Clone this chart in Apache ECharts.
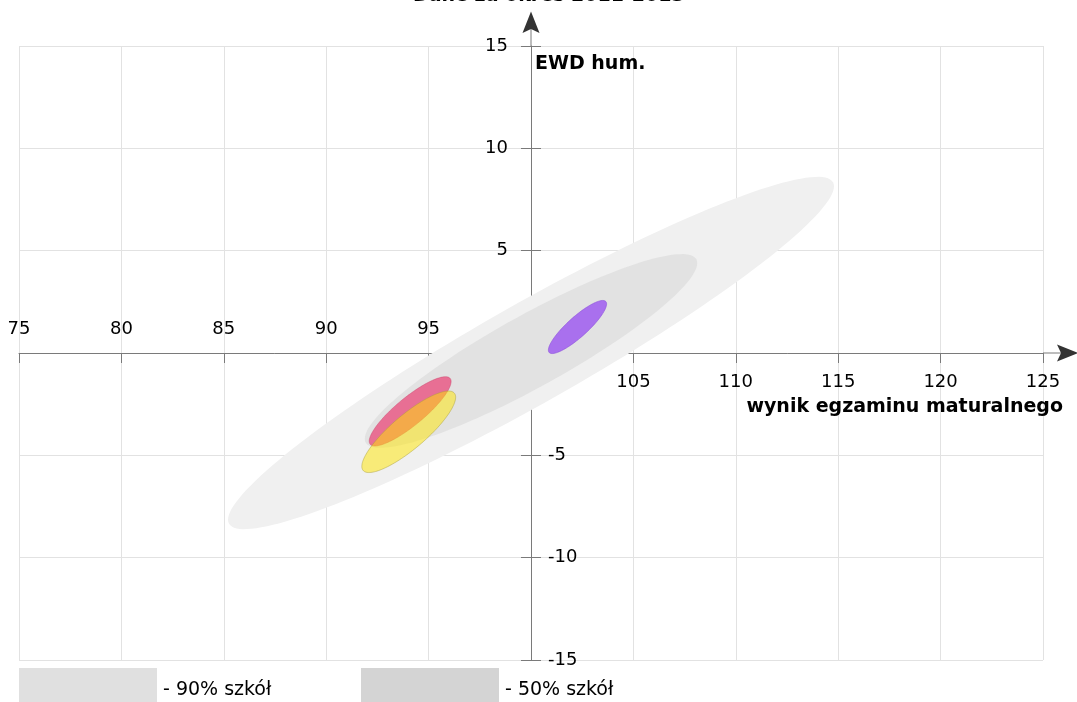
<!DOCTYPE html>
<html><head><meta charset="utf-8">
<script src="https://cdn.jsdelivr.net/npm/echarts@6/dist/echarts.min.js"></script>
<style>html,body{margin:0;padding:0;background:#fff;overflow:hidden}#c{width:1077px;height:702px}</style>
</head><body><div id="c"></div>
<script>
// ---- data ----
const titleText = 'Dane za okres 2011-2013';
const xAxisName = 'wynik egzaminu maturalnego';
const yAxisName = 'EWD hum.';
const xMin = 75, xMax = 125, xStep = 5, xCross = 100;
const yMin = -15, yMax = 15, yStep = 5, yCross = 0;
const ellipseNames = ['90% szkół', '50% szkół', 'szkoła 1', 'szkoła 2', 'szkoła 3'];
const ellipseCx = [100, 100, 94.1, 94.03, 102.27];
const ellipseCy = [0, 0.1, -2.85, -3.85, 1.27];
const ellipseA = [16.94, 9.23, 2.53, 2.92, 1.86];   // semi-major (axis units)
const ellipseB = [2.44, 1.76, 0.68, 0.83, 0.49];    // semi-minor (axis units)
const ellipseAngle = [29.5, 29, 39.5, 40.3, 42];    // degrees
const legendLabels = ['- 90% szkół', '- 50% szkół'];

// ---- styles ----
const ellipseFill = ['#f0f0f0', '#e2e2e2', 'rgba(235,40,100,0.62)', 'rgba(255,230,0,0.5)', '#a970ee'];
const ellipseStroke = [null, null, 'rgba(200,60,100,0.5)', 'rgba(170,160,60,0.6)', 'rgba(140,80,220,0.8)'];
const legendColors = ['#e0e0e0', '#d4d4d4'];
const FONT = 'DejaVu Sans';

function makeRender(i) {
  return function (params, api) {
    const cx = api.value(0), cy = api.value(1), a = api.value(2), b = api.value(3);
    const ang = api.value(4) * Math.PI / 180;
    const c = api.coord([cx, cy]);
    const s = api.size([1, 1]);
    const pts = [];
    const N = 160;
    for (let k = 0; k < N; k++) {
      const t = k / N * 2 * Math.PI;
      const dx = a * Math.cos(t) * Math.cos(ang) - b * Math.sin(t) * Math.sin(ang);
      const dy = a * Math.cos(t) * Math.sin(ang) + b * Math.sin(t) * Math.cos(ang);
      pts.push([c[0] + dx * s[0], c[1] - dy * s[1]]);
    }
    const style = { fill: ellipseFill[i] };
    if (ellipseStroke[i]) { style.stroke = ellipseStroke[i]; style.lineWidth = 0.8; }
    return { type: 'polygon', shape: { points: pts }, style: style };
  };
}

const series = ellipseNames.map((n, i) => ({
  type: 'custom', name: n, xAxisIndex: 0, yAxisIndex: 0, clip: false,
  renderItem: makeRender(i),
  data: [[ellipseCx[i], ellipseCy[i], ellipseA[i], ellipseB[i], ellipseAngle[i]]],
  silent: true, z: 2 + i
}));

const axisCol = '#7a7a7a';
const gridCol = '#e2e2e2';
const labelStyle = { color: '#000', fontSize: 18, fontFamily: FONT };

const chart = echarts.init(document.getElementById('c'), null, { renderer: 'canvas' });
chart.setOption({
  animation: false,
  title: { text: titleText, left: 408, top: -18, textStyle: { fontSize: 19, fontWeight: 'bold', fontFamily: FONT, color: '#000' } },
  grid: { left: 19, right: 34, top: 46, bottom: 42, containLabel: false, outerBoundsMode: 'none' },
  xAxis: [
    { type: 'value', min: xMin, max: xMax, interval: xStep, position: 'bottom',
      axisLine: { onZero: false, lineStyle: { color: axisCol, width: 1 } },
      axisTick: { show: true, length: 10, lineStyle: { color: axisCol } },
      axisLabel: Object.assign({ inside: true, margin: 15, formatter: v => (v < xCross ? String(v) : '') }, labelStyle),
      splitLine: { show: true, lineStyle: { color: gridCol, width: 1 } } },
    { type: 'value', min: xMin, max: xMax, interval: xStep, position: 'bottom',
      axisLine: { onZero: false, show: false },
      axisTick: { show: false },
      axisLabel: Object.assign({ margin: 20, formatter: v => (v > xCross ? String(v) : '') }, labelStyle),
      splitLine: { show: false } }
  ],
  yAxis: [
    { type: 'value', min: yMin, max: yMax, interval: yStep, position: 'left',
      axisLine: { onZero: false, lineStyle: { color: axisCol, width: 1 } },
      axisTick: { show: true, length: 10, lineStyle: { color: axisCol } },
      axisLabel: Object.assign({ margin: 23, formatter: v => (v > yCross ? String(v) : '') }, labelStyle),
      splitLine: { show: true, lineStyle: { color: gridCol, width: 1 } } },
    { type: 'value', min: yMin, max: yMax, interval: yStep, position: 'left',
      axisLine: { onZero: false, show: false },
      axisTick: { show: true, inside: true, length: 10, lineStyle: { color: axisCol } },
      axisLabel: Object.assign({ inside: true, margin: 17, formatter: v => (v < yCross ? String(v) : '') }, labelStyle),
      splitLine: { show: false } }
  ],
  series: series
});

// move axes so they cross at (xCross, yCross), using the library's own scales
const bl = chart.convertToPixel({ xAxisIndex: 0, yAxisIndex: 0 }, [xMin, yMin]);
const cr = chart.convertToPixel({ xAxisIndex: 0, yAxisIndex: 0 }, [xCross, yCross]);
const xOff = -(bl[1] - cr[1]);
const yOff = -(cr[0] - bl[0]);
chart.setOption({
  xAxis: [{ offset: xOff }, { offset: xOff }],
  yAxis: [{ offset: yOff }, { offset: yOff }]
});

const o = chart.convertToPixel({ xAxisIndex: 0, yAxisIndex: 0 }, [xCross, yMax]);   // top of y-axis
const r = chart.convertToPixel({ xAxisIndex: 0, yAxisIndex: 0 }, [xMax, yCross]);   // right end of x-axis

const g = [];
g.push({ type: 'line', shape: { x1: o[0], y1: o[1], x2: o[0], y2: o[1] - 18 }, style: { stroke: axisCol, lineWidth: 1 } });
g.push({ type: 'polygon', shape: { points: [[o[0], o[1] - 34.5], [o[0] - 8.5, o[1] - 13], [o[0], o[1] - 17], [o[0] + 8.5, o[1] - 13]] }, style: { fill: '#333' } });
g.push({ type: 'line', shape: { x1: r[0], y1: r[1], x2: r[0] + 18, y2: r[1] }, style: { stroke: axisCol, lineWidth: 1 } });
g.push({ type: 'polygon', shape: { points: [[r[0] + 35, r[1]], [r[0] + 14, r[1] - 8.5], [r[0] + 18, r[1]], [r[0] + 14, r[1] + 8.5]] }, style: { fill: '#333' } });
g.push({ type: 'text', x: o[0] + 4, y: o[1] + 18, style: { text: yAxisName, fill: '#000', font: 'bold 19px "' + FONT + '"', textAlign: 'left', textVerticalAlign: 'middle' } });
g.push({ type: 'text', x: r[0] + 20, y: r[1] + 54, style: { text: xAxisName, fill: '#000', font: 'bold 19px "' + FONT + '"', textAlign: 'right', textVerticalAlign: 'middle' } });
const legendX = [bl[0], bl[0] + 342];
legendLabels.forEach((t, i) => {
  g.push({ type: 'rect', shape: { x: legendX[i], y: bl[1] + 8, width: 138, height: 40 }, style: { fill: legendColors[i] } });
  g.push({ type: 'text', x: legendX[i] + 144, y: bl[1] + 30, style: { text: t, fill: '#000', font: '19px "' + FONT + '"', textAlign: 'left', textVerticalAlign: 'middle' } });
});
chart.setOption({ graphic: g });
</script>
</body></html>
